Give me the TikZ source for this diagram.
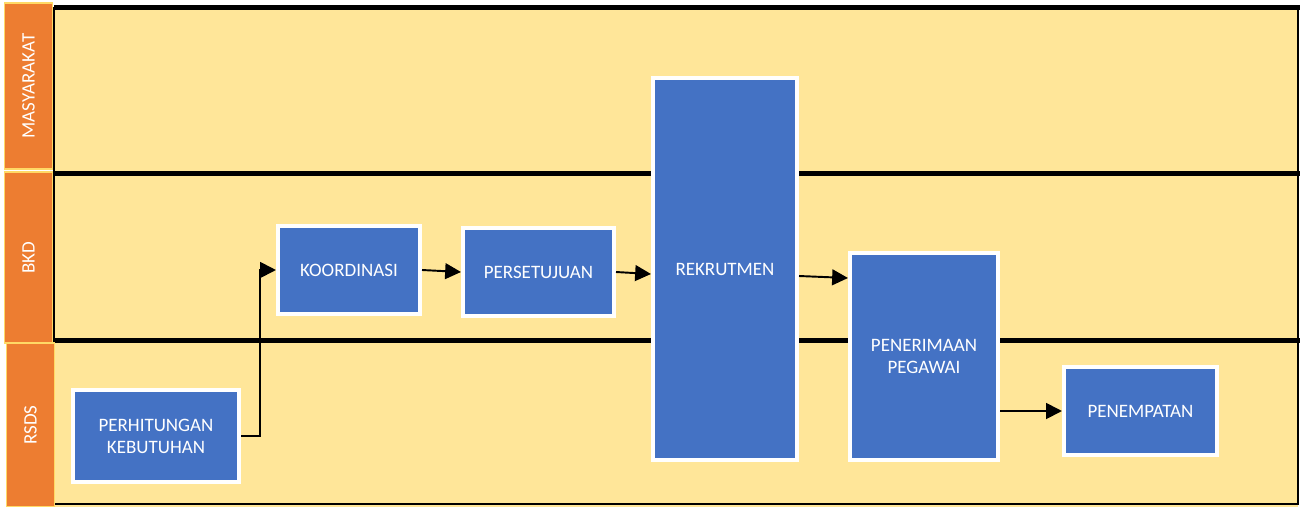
\documentclass[tikz,border=0pt]{standalone}
\usepackage{fontspec}
\setmainfont{Carlito}
\usetikzlibrary{arrows.meta}
\definecolor{laneyellow}{HTML}{FFE699}
\definecolor{laneorange}{HTML}{ED7D31}
\definecolor{laneedge}{HTML}{FFD966}
\definecolor{taskblue}{HTML}{4472C4}

\begin{document}
\begin{tikzpicture}[x=0.2mm, y=-0.2mm,
  lane/.style={rectangle, fill=laneorange, draw=laneedge, line width=0.8pt, rotate=90, text=white, inner sep=0pt, minimum height=9.6mm, font=\fontsize{10.8}{12.5}\selectfont},
  task/.style={rectangle, fill=taskblue, draw=white, line width=2.3pt, text=white, align=center, inner sep=0pt, font=\fontsize{10.8}{12.5}\selectfont},
  flow/.style={-{Triangle[length=9pt, width=9pt]}, line width=1.1pt},
  sep/.style={line width=2.8pt}]

\useasboundingbox (0,0) rectangle (1300,507);
\fill[white] (0,0) rectangle (1300,507);
\fill[laneyellow] (54,5) rectangle (1298,507);

\draw[sep] (54,7.5) -- (1300,7.5);
\draw[sep] (54,173.5) -- (1300,173.5);
\draw[sep] (54,340.5) -- (1300,340.5);
\draw[line width=1.6pt] (54,504) -- (1298,504) -- (1298,7);
\draw[line width=0.6pt] (54,7) -- (54,507);

% swimlanes
\node[lane, minimum width=33.2mm] (masy) at (28.5,86) {MASYARAKAT};
\node[lane, minimum width=34.2mm] (bkd) at (28.5,257.5) {BKD};
\node[lane, minimum width=32.8mm] (rsds) at (30.5,425) {RSDS};

% tasks
\node[task, minimum width=33.2mm, minimum height=18.4mm] (hitung) at (156,436) {PERHITUNGAN\\KEBUTUHAN};
\node[task, minimum width=28.4mm, minimum height=17.6mm] (koor) at (349,270) {KOORDINASI};
\node[task, minimum width=30.2mm, minimum height=17.6mm] (setuju) at (538.5,272) {PERSETUJUAN};
\node[task, minimum width=28.8mm, minimum height=76.4mm] (rekrut) at (725,269) {REKRUTMEN};
\node[task, minimum width=29.6mm, minimum height=41.4mm] (terima) at (924,356.5) {PENERIMAAN\\PEGAWAI};
\node[task, minimum width=30.6mm, minimum height=17.6mm] (tempat) at (1140.5,411) {PENEMPATAN};

\coordinate (bend) at (260,270);

\draw[flow] (hitung.east) -| (bend) -- (koor.west);
\draw[flow] (koor.east) -- (setuju.west);
\draw[flow] (setuju.east) -- ([yshift=-0.4mm]setuju.east -| rekrut.west);
\draw[flow] ([yshift=-1.4mm]rekrut.east) -- ([yshift=-1.8mm]rekrut.east -| terima.west);
\draw[flow] (terima.east |- tempat.west) -- (tempat.west);

\end{tikzpicture}
\end{document}
